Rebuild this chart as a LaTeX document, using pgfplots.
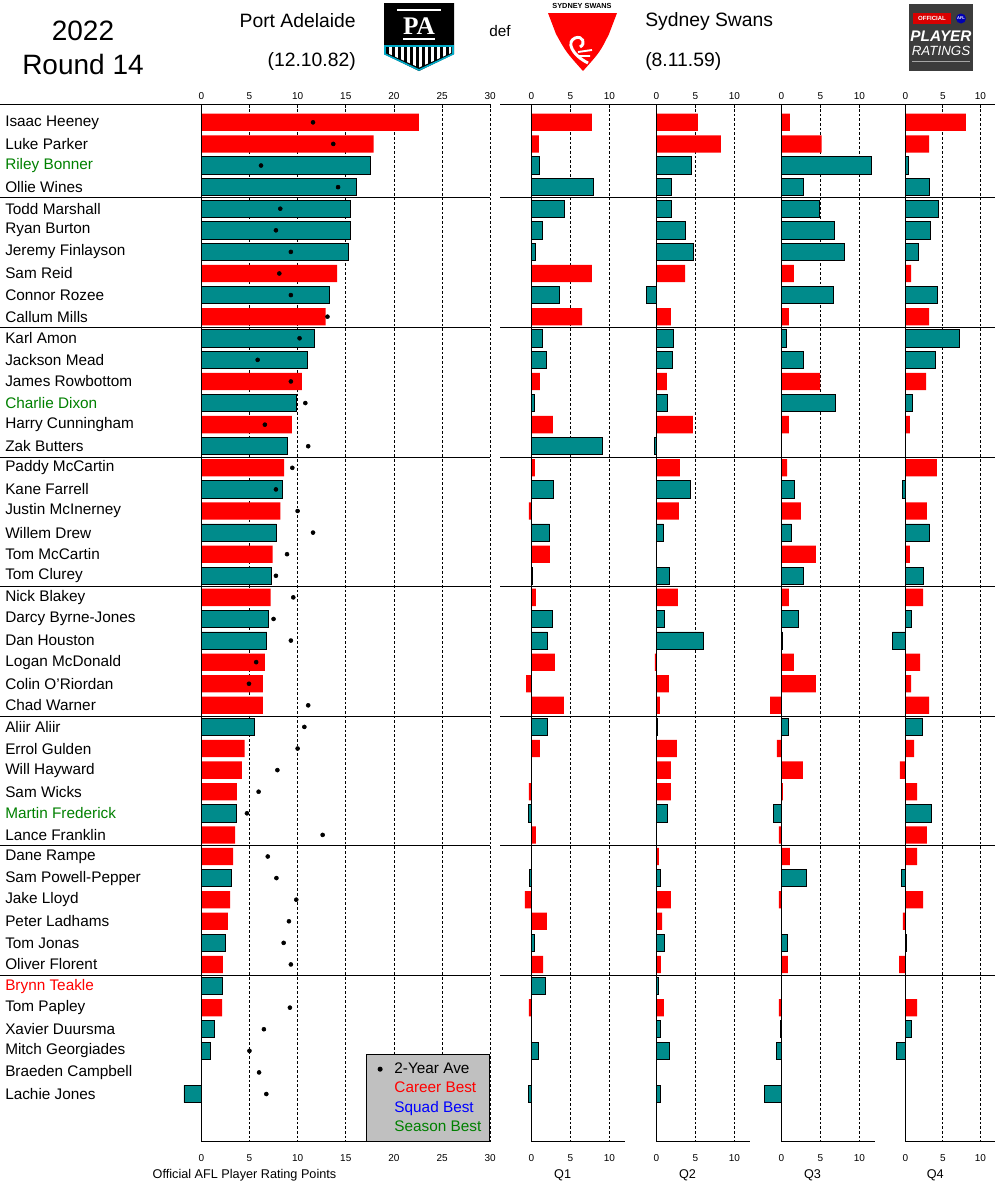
\documentclass[border=0pt]{standalone}
\usepackage{pgfplots}
\pgfplotsset{compat=1.18}
\usepackage{pgfplotstable}
\usepackage{fontspec}
\setmainfont{Liberation Sans}
\newfontfamily\seriffont{Liberation Serif}
\definecolor{pteal}{HTML}{008B8B}
\definecolor{sred}{HTML}{FF0000}
\definecolor{sgreen}{HTML}{008000}
\definecolor{lgray}{HTML}{C0C0C0}
\definecolor{pacyan}{HTML}{00A9C6}
\definecolor{logogray}{HTML}{3C3C3C}

\pgfplotstableread{
row total q1 q2 q3 q4 ave
3 17.6 1.07 4.53 11.58 0.44 6.2
4 16.1 7.99 1.97 2.86 3.24 14.2
5 15.5 4.23 1.97 4.87 4.44 8.2
6 15.5 1.41 3.72 6.79 3.33 7.75
7 15.3 0.51 4.74 8.08 1.73 9.3
9 13.3 3.63 -1.28 6.67 4.31 9.3
11 11.7 1.41 2.18 0.64 7.2 10.2
12 11.0 1.92 2.05 2.86 4.0 5.85
14 9.9 0.38 1.41 6.92 0.93 10.8
16 8.96 9.1 -0.26 0 0 11.1
18 8.4 2.86 4.4 1.71 -0.4 7.75
20 7.8 2.35 0.94 1.32 3.24 11.6
22 7.3 0.09 1.71 2.86 2.44 7.75
24 7.0 2.74 1.07 2.22 0.84 7.5
25 6.8 2.09 6.07 0.17 -1.73 9.3
29 5.5 2.09 0.17 0.94 2.31 10.7
33 3.67 -0.38 1.45 -1.03 3.51 4.74
36 3.15 -0.26 0.56 3.25 -0.53 7.8
39 2.5 0.43 1.07 0.81 0.18 8.55
41 2.2 1.84 0.3 0 0 nan
43 1.38 0 0.56 -0.13 0.84 6.5
44 0.97 0.94 1.71 -0.64 -1.2 5.0
46 -1.8 -0.38 0.56 -2.18 0 6.75
}\port

\pgfplotstableread{
row total q1 q2 q3 q4 ave
1 22.6 7.78 5.34 1.11 8.09 11.6
2 17.9 0.98 8.29 5.17 3.16 13.7
8 14.1 7.78 3.68 1.62 0.76 8.1
10 12.9 6.5 1.88 0.98 3.16 13.1
13 10.45 1.11 1.37 4.96 2.76 9.3
15 9.4 2.78 4.7 0.98 0.62 6.6
17 8.6 0.47 3.03 0.73 4.22 9.45
19 8.2 -0.3 2.9 2.52 2.89 10.0
21 7.4 2.39 0 4.44 0.62 8.9
23 7.2 0.6 2.78 0.98 2.36 9.55
26 6.6 3.03 -0.17 1.62 1.96 5.7
27 6.4 -0.68 1.62 4.44 0.76 4.95
28 6.4 4.19 0.47 -1.45 3.16 11.1
30 4.5 1.11 2.65 -0.56 1.16 10.0
31 4.2 0 1.88 2.78 -0.71 7.9
32 3.7 -0.3 1.88 0.21 1.56 5.95
34 3.5 0.6 0 -0.3 2.89 12.6
35 3.3 0 0.34 1.11 1.56 6.9
37 3.0 -0.81 1.88 -0.3 2.36 9.86
38 2.77 2.0 0.73 0 -0.31 9.1
40 2.25 1.5 0.6 0.85 -0.84 9.3
42 2.15 -0.3 0.98 -0.3 1.56 9.2
45 0 0 0 0 0 6.0
}\syd

\pgfplotsset{
  panel/.style={
    scale only axis, clip=false, anchor=south west,
    height=778.05pt, y dir=reverse, ymin=0.166, ymax=48.21,
    axis line style={draw=none},
    xtick pos=right, xticklabel pos=right, tick align=inside,
    major tick length=3pt,
    xtick style={black, line width=0.6pt},
    ytick=\empty, ytick style={draw=none},
    xmajorgrids, major grid style={black, line width=0.5pt, dash pattern=on 2pt off 1.5pt},
    /pgf/number format/assume math mode=true,
    xticklabel style={font=\fontsize{7.5}{9}\selectfont, inner sep=2pt, yshift=1.5pt},
  },
  pbar/.style={xbar, bar shift=0pt, bar width=0.8, fill=pteal, draw=black, line width=0.6pt, forget plot},
  sbar/.style={xbar, bar shift=0pt, bar width=0.8, fill=sred, draw=none, forget plot},
  dotlegend/.style={legend image code/.code={\path[draw=none, fill=none] (0pt,-2pt) rectangle (15pt,2pt); \draw[##1] plot coordinates {(6.25pt,0pt)};}},
}
\newcommand{\botlab}[1]{\node[font=\fontsize{7.5}{9}\selectfont, yshift=-12pt] at (axis cs:#1,48.21) {#1};}
\newcommand{\seps}[2]{\pgfplotsinvokeforeach{4.5,10.5,16.5,22.5,28.5,34.5,40.5}{\draw[line width=0.75pt] (axis cs:#1,##1) -- (axis cs:#2,##1);}}
\newcommand{\frameax}[2]{%
  \draw[line width=0.75pt] (axis cs:#1,0.166) -- (axis cs:#2,0.166);
  \draw[line width=0.75pt] (axis cs:0,0.166) -- (axis cs:0,48.21) -- (axis cs:#2,48.21);}

\begin{document}
\begin{tikzpicture}
\useasboundingbox (0,0) rectangle (750pt,-900pt);

% ---------- main panel ----------
\begin{axis}[panel, at={(136.53pt,-856.28pt)}, width=231.15pt,
  xmin=-2, xmax=30, xtick={0,5,...,30},
  ytick={1,...,46},
  yticklabels={Isaac Heeney, Luke Parker, \textcolor{sgreen}{Riley Bonner}, Ollie Wines,
    Todd Marshall, Ryan Burton, Jeremy Finlayson, Sam Reid, Connor Rozee, Callum Mills,
    Karl Amon, Jackson Mead, James Rowbottom, \textcolor{sgreen}{Charlie Dixon}, Harry Cunningham, Zak Butters,
    Paddy McCartin, Kane Farrell, Justin McInerney, Willem Drew, Tom McCartin, Tom Clurey,
    Nick Blakey, Darcy Byrne-Jones, Dan Houston, Logan McDonald, Colin O'Riordan, Chad Warner,
    Aliir Aliir, Errol Gulden, Will Hayward, Sam Wicks, \textcolor{sgreen}{Martin Frederick}, Lance Franklin,
    Dane Rampe, Sam Powell-Pepper, Jake Lloyd, Peter Ladhams, Tom Jonas, Oliver Florent,
    \textcolor{sred}{Brynn Teakle}, Tom Papley, Xavier Duursma, Mitch Georgiades, Braeden Campbell, Lachie Jones},
  yticklabel style={anchor=west, inner sep=0pt, xshift=-132.78pt, font=\fontsize{11.5}{13}\selectfont},
  legend style={at={(1,0)}, anchor=south east, fill=lgray, draw=black, line width=0.75pt,
    font=\fontsize{11.5}{13}\selectfont, inner xsep=4.25pt, inner ysep=4pt, row sep=0.8pt},
  legend cell align=left,
]
\addplot[pbar] table[x=total, y=row] {\port};
\addplot[sbar] table[x=total, y=row] {\syd};
\addplot[only marks, mark=*, mark size=1.5pt, black, dotlegend] table[x=ave, y=row] {\port};
\addlegendentry{2-Year Ave}
\addplot[only marks, mark=*, mark size=1.5pt, black, forget plot] table[x=ave, y=row] {\syd};
\addlegendimage{empty legend}
\addlegendentry{\textcolor{sred}{Career Best}}
\addlegendimage{empty legend}
\addlegendentry{\textcolor{blue}{Squad Best}}
\addlegendimage{empty legend}
\addlegendentry{\textcolor{sgreen}{Season Best}}
\seps{-21}{30}
\frameax{-21}{30}
\botlab{0}\botlab{5}\botlab{10}\botlab{15}\botlab{20}\botlab{25}\botlab{30}
\end{axis}

% ---------- Q1 ----------
\begin{axis}[panel, at={(375.08pt,-856.28pt)}, width=93.6pt, xmin=-4, xmax=12, xtick={0,5,10}]
\addplot[pbar] table[x=q1, y=row] {\port};
\addplot[sbar] table[x=q1, y=row] {\syd};
\seps{-4}{12}
\frameax{-4}{12}
\botlab{0}\botlab{5}\botlab{10}
\end{axis}

% ---------- Q2 ----------
\begin{axis}[panel, at={(468.83pt,-856.28pt)}, width=93.6pt, xmin=-4, xmax=12, xtick={0,5,10}]
\addplot[pbar] table[x=q2, y=row] {\port};
\addplot[sbar] table[x=q2, y=row] {\syd};
\seps{-4}{12}
\frameax{-4}{12}
\botlab{0}\botlab{5}\botlab{10}
\end{axis}

% ---------- Q3 ----------
\begin{axis}[panel, at={(562.58pt,-856.28pt)}, width=93.6pt, xmin=-4, xmax=12, xtick={0,5,10}]
\addplot[pbar] table[x=q3, y=row] {\port};
\addplot[sbar] table[x=q3, y=row] {\syd};
\seps{-4}{12}
\frameax{-4}{12}
\botlab{0}\botlab{5}\botlab{10}
\end{axis}

% ---------- Q4 ----------
\begin{axis}[panel, at={(656.48pt,-856.28pt)}, width=90pt, xmin=-4, xmax=12, xtick={0,5,10}]
\addplot[pbar] table[x=q4, y=row] {\port};
\addplot[sbar] table[x=q4, y=row] {\syd};
\seps{-4}{12}
\frameax{-4}{12}
\botlab{0}\botlab{5}\botlab{10}
\end{axis}

% ---------- header and labels (pixel coordinates) ----------
\begin{scope}[x=0.75pt, y=-0.75pt]
\node[font=\fontsize{21}{24}\selectfont] at (83,31) {2022};
\node[font=\fontsize{21}{24}\selectfont] at (83,64) {Round 14};
\node[anchor=east, inner sep=0pt, font=\fontsize{14.5}{17}\selectfont] at (356,21) {Port Adelaide};
\node[anchor=east, inner sep=0pt, font=\fontsize{14.5}{17}\selectfont] at (356,61) {(12.10.82)};
\node[font=\fontsize{11.5}{13}\selectfont] at (500,31) {def};
\node[anchor=west, inner sep=0pt, font=\fontsize{14.5}{17}\selectfont] at (645,21) {Sydney Swans};
\node[anchor=west, inner sep=0pt, font=\fontsize{14.5}{17}\selectfont] at (645,61) {(8.11.59)};

% Port Adelaide logo
\fill[black] (384,3) -- (454,3) -- (454,54) -- (419,71) -- (384,54) -- cycle;
\begin{scope}
\clip (387,47) -- (451,47) -- (451,53) -- (419,67.5) -- (387,53) -- cycle;
\foreach \xx in {389,395,...,451} {\fill[white] (\xx,47) rectangle (\xx+2.5,70);}
\end{scope}
\draw[pacyan, line width=1.2] (385,46) -- (453,46) -- (453,54) -- (419,70) -- (385,54) -- cycle;
\node[text=white, inner sep=0pt, font=\seriffont\bfseries\fontsize{19}{19}\selectfont] at (419,26) {PA};
\draw[white, line width=0.8] (397,10) -- (441,10);
\draw[white, line width=0.8] (403,39) -- (435,39);

% Sydney Swans logo
\node[font=\bfseries\fontsize{5.5}{6}\selectfont] at (582,5.5) {SYDNEY SWANS};
\fill[sred] (548,13) -- (617,13) -- (609,34) .. controls (600,52) .. (583,71) .. controls (566,52) .. (556,34) -- cycle;
\draw[white, line width=2.2] (588,63) .. controls (572,55) and (566,42) .. (575,38) .. controls (583,35) and (586,44) .. (580,47);
\draw[white, line width=1.4] (578,52) -- (592,50) (577,56) -- (590,56);

% Player ratings logo
\fill[logogray] (909,4) rectangle (973,71);
\fill[sred!85!black] (913,13) rectangle (951,24);
\node[white, inner sep=0pt, font=\bfseries\fontsize{4.5}{5}\selectfont] at (932,18.5) {OFFICIAL};
\fill[blue!70!black] (961,18.5) circle (5);
\node[white, inner sep=0pt, font=\bfseries\fontsize{3}{3}\selectfont] at (961,18.5) {AFL};
\node[white, inner sep=0pt, font=\bfseries\itshape\fontsize{11.5}{12}\selectfont] at (941,36) {PLAYER};
\node[white, inner sep=0pt, font=\itshape\fontsize{10}{10}\selectfont] at (941,50.5) {RATINGS};
\draw[gray!70] (912,61) -- (970,61);

% axis labels
\node[font=\fontsize{9.5}{11}\selectfont] at (244.5,1175.7) {Official AFL Player Rating Points};
\node[font=\fontsize{9.5}{11}\selectfont] at (562.6,1175.7) {Q1};
\node[font=\fontsize{9.5}{11}\selectfont] at (687.5,1175.7) {Q2};
\node[font=\fontsize{9.5}{11}\selectfont] at (812.5,1175.7) {Q3};
\node[font=\fontsize{9.5}{11}\selectfont] at (935.3,1175.7) {Q4};
\end{scope}
\end{tikzpicture}
\end{document}
